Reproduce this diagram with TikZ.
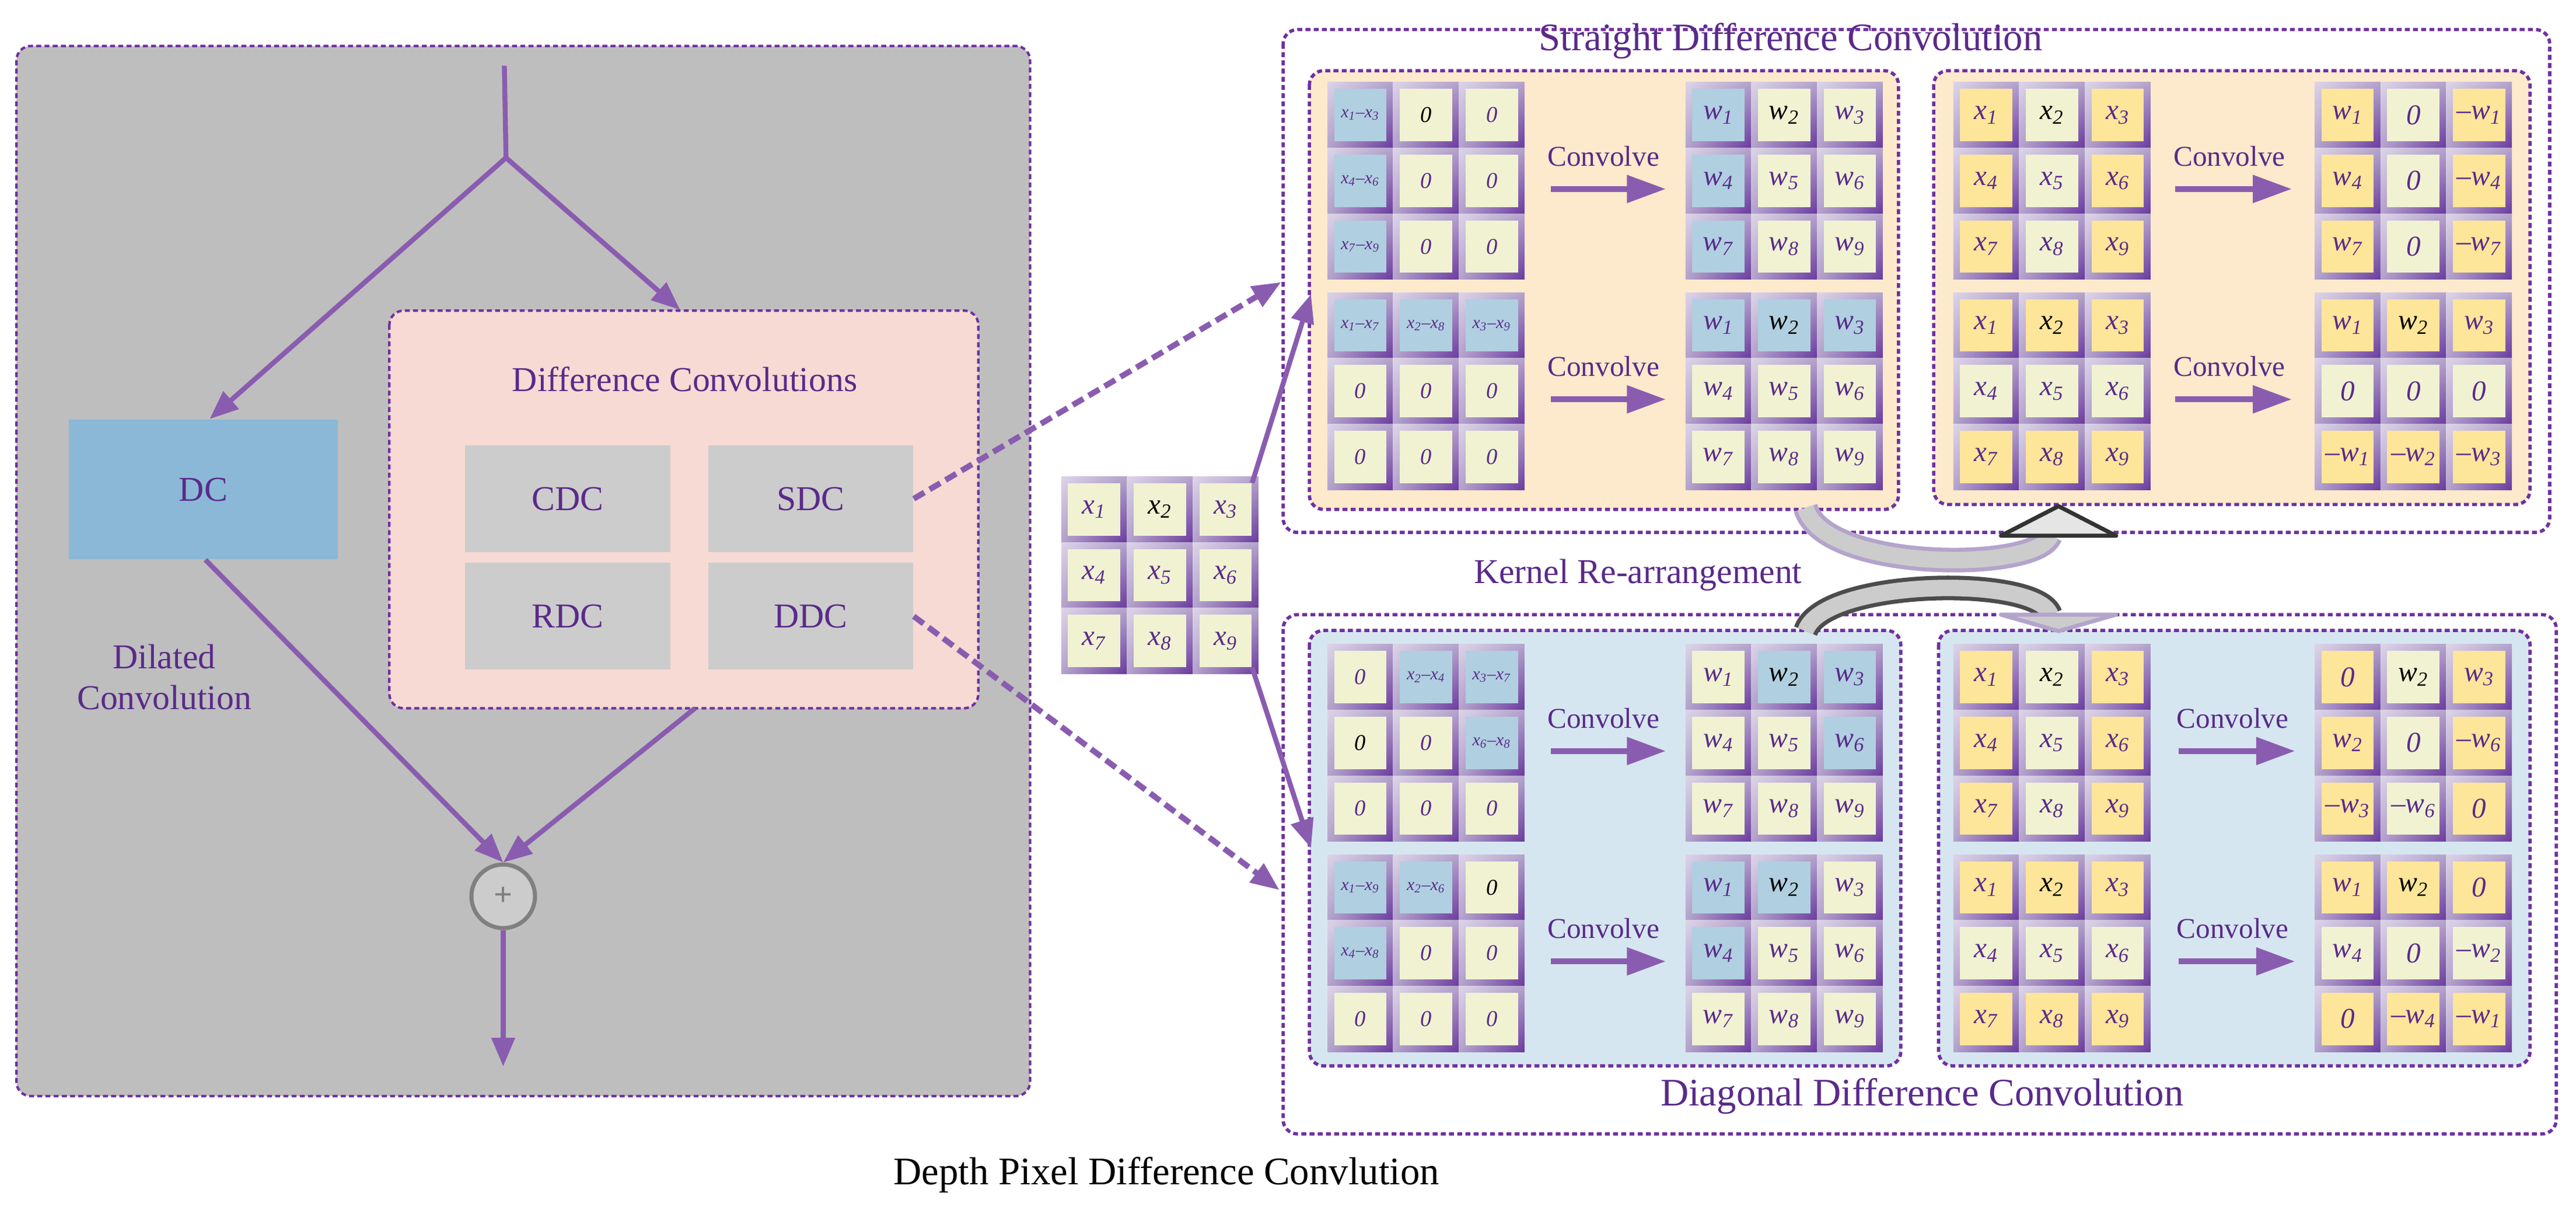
\documentclass[tikz,border=0pt]{standalone}
\usepackage{fontspec}
\setmainfont{Liberation Serif}
\usetikzlibrary{arrows.meta,shadings}
\definecolor{tpurple}{HTML}{5A2A8A}
\definecolor{bpurple}{HTML}{7030A0}
\definecolor{apurple}{HTML}{8A5CB0}
\definecolor{cy}{HTML}{FDE59A}
\definecolor{cc}{HTML}{F0F2D2}
\definecolor{cb}{HTML}{B0CFE0}
\definecolor{cellL}{HTML}{DCD4E8}
\definecolor{cellM}{HTML}{B4A4CC}
\definecolor{cellD}{HTML}{6A3A9E}
\definecolor{peach}{HTML}{FDE9CB}
\definecolor{lblue}{HTML}{D6E6F0}
\definecolor{pink}{HTML}{F6DAD3}
\definecolor{panelgray}{HTML}{BEBEBE}
\definecolor{boxgray}{HTML}{CCCCCC}
\definecolor{dcblue}{HTML}{8AB8D6}
\newcommand\vv[2]{\textit{#1}\textsubscript{\textit{#2}}}
\newcommand\X[1]{\vv{x}{#1}}
\newcommand\Xb[1]{\color{black}\vv{x}{#1}}
\newcommand\W[1]{\vv{w}{#1}}
\newcommand\Wb[1]{\color{black}\vv{w}{#1}}
\newcommand\Nw[1]{–\vv{w}{#1}}
\newcommand\Zk{\textit{0}}
\newcommand\Zs{\fontsize{11}{11}\selectfont\textit{0}}
\newcommand\Zsb{\fontsize{11}{11}\selectfont\color{black}\textit{0}}
\newcommand\Df[2]{\fontsize{8.5}{9}\selectfont\vv{x}{#1}–\vv{x}{#2}}
\newcommand\mymat[4]{%
  \foreach \t/\c [count=\i from 0] in {#4} {%
    \pgfmathtruncatemacro\mc{mod(\i,3)}%
    \pgfmathtruncatemacro\mr{int(\i/3)}%
    \shade[upper left=cellL, upper right=cellM, lower left=cellM, lower right=cellD]
      (#1+40*\mc, #2+40*\mr) rectangle ++(40,40);
    \node[cellbox, fill=\c] (#3-\i) at (#1+40*\mc+20, #2+40*\mr+20) {\t};
  }}
\begin{document}
\begin{tikzpicture}[x=0.02816cm, y=-0.02816cm,
  cellbox/.style={minimum width=25.5pt, minimum height=25.5pt, inner sep=0pt, text=tpurple, font=\fontsize{14}{14}\selectfont},
  dbox/.style={draw=bpurple, line width=1.6pt, dash pattern=on 2.4pt off 1.6pt, rounded corners=7pt},
  conn/.style={draw=apurple, line width=2.4pt, -{Triangle[length=14pt,width=11pt]}},
  dconn/.style={draw=apurple, line width=2.8pt, dash pattern=on 6pt off 3pt, -{Triangle[length=14pt,width=11pt]}},
  conv/.style={draw=apurple, line width=2.9pt, -{Triangle[length=19pt,width=13pt]}},
  lbl/.style={text=tpurple, font=\fontsize{17}{20}\selectfont, align=center},
  cvl/.style={text=tpurple, font=\fontsize{14}{14}\selectfont},
  gbox/.style={fill=boxgray, minimum width=100pt, minimum height=52pt, text=tpurple, font=\fontsize{17}{17}\selectfont}]
\useasboundingbox (0,0) rectangle (1568,734.4);

% ---------- left panel ----------
\draw[dbox, fill=panelgray, line width=1.2pt] (10,28) rectangle (627,667);
\draw[dbox, fill=pink, line width=1.2pt] (237,189) rectangle (595.5,431);
\node[lbl] (dct) at (416.8,230.6) {Difference Convolutions};
\node[gbox] (cdc) at (345.5,303.5) {CDC};
\node[gbox] (sdc) at (493.5,303.5) {SDC};
\node[gbox] (rdc) at (345.5,375) {RDC};
\node[gbox] (ddc) at (493.5,375) {DDC};
\node[fill=dcblue, minimum width=131pt, minimum height=68pt, text=tpurple, font=\fontsize{17}{17}\selectfont] (dc) at (123.75,297.8) {DC};
\node[lbl] (dil) at (100,412) {Dilated\\Convolution};
\node[circle, draw=gray, line width=2pt, fill=boxgray, minimum size=31pt, inner sep=0pt, text=gray, font=\bfseries\fontsize{16}{16}\selectfont] (plus) at (306.3,545.4) {+};
\coordinate (in) at (307,40);
\coordinate (br) at (308,96);
\coordinate (out) at (306.3,649);
\coordinate (pinktop) at (414,188.6);
\draw[draw=apurple, line width=2.4pt] (in) -- (br);
\draw[conn] (br) -- (127.6,255);
\draw[conn] (br) -- (pinktop);
\draw[conn] (125,340.6) -- (plus.north);
\draw[conn] (423,431) -- (plus.north);
\draw[conn] (plus.south) -- (out);

% ---------- right outer boxes ----------
\draw[dbox] (781,18) rectangle (1552,324);
\draw[dbox] (781,374) rectangle (1556,690);
\node[text=tpurple, font=\fontsize{19}{19}\selectfont] (sdct) at (1090,25) {Straight Difference Convolution};
\node[text=tpurple, font=\fontsize{19}{19}\selectfont] (ddct) at (1170,667) {Diagonal Difference Convolution};
\node[text=tpurple, font=\fontsize{17}{17}\selectfont] (kra) at (997,350) {Kernel Re-arrangement};
\draw[dbox, fill=peach] (797,43) rectangle (1155.6,310);
\draw[dbox, fill=peach] (1177,43) rectangle (1540,307);
\draw[dbox, fill=lblue] (797,383.6) rectangle (1157,648.6);
\draw[dbox, fill=lblue] (1180,383.6) rectangle (1540,648.6);

% input matrix
\mymat{646}{290}{in}{\X{1}/cc,\Xb{2}/cc,\X{3}/cc,\X{4}/cc,\X{5}/cc,\X{6}/cc,\X{7}/cc,\X{8}/cc,\X{9}/cc}

% top-left panel
\mymat{808}{50}{ma}{\Df{1}{3}/cb,\Zsb/cc,\Zs/cc,\Df{4}{6}/cb,\Zs/cc,\Zs/cc,\Df{7}{9}/cb,\Zs/cc,\Zs/cc}
\mymat{1026}{50}{ka}{\W{1}/cb,\Wb{2}/cc,\W{3}/cc,\W{4}/cb,\W{5}/cc,\W{6}/cc,\W{7}/cb,\W{8}/cc,\W{9}/cc}
\mymat{808}{178}{mb}{\Df{1}{7}/cb,\Df{2}{8}/cb,\Df{3}{9}/cb,\Zs/cc,\Zs/cc,\Zs/cc,\Zs/cc,\Zs/cc,\Zs/cc}
\mymat{1026}{178}{kb}{\W{1}/cb,\Wb{2}/cb,\W{3}/cb,\W{4}/cc,\W{5}/cc,\W{6}/cc,\W{7}/cc,\W{8}/cc,\W{9}/cc}
% top-right panel
\mymat{1189}{50}{mc}{\X{1}/cy,\Xb{2}/cc,\X{3}/cy,\X{4}/cy,\X{5}/cc,\X{6}/cy,\X{7}/cy,\X{8}/cc,\X{9}/cy}
\mymat{1409}{50}{kc}{\W{1}/cy,\Zk/cc,\Nw{1}/cy,\W{4}/cy,\Zk/cc,\Nw{4}/cy,\W{7}/cy,\Zk/cc,\Nw{7}/cy}
\mymat{1189}{178}{md}{\X{1}/cy,\Xb{2}/cy,\X{3}/cy,\X{4}/cc,\X{5}/cc,\X{6}/cc,\X{7}/cy,\X{8}/cy,\X{9}/cy}
\mymat{1409}{178}{kd}{\W{1}/cy,\Wb{2}/cy,\W{3}/cy,\Zk/cc,\Zk/cc,\Zk/cc,\Nw{1}/cy,\Nw{2}/cy,\Nw{3}/cy}
% bottom-left panel
\mymat{808}{392}{me}{\Zs/cc,\Df{2}{4}/cb,\Df{3}{7}/cb,\Zsb/cc,\Zs/cc,\Df{6}{8}/cb,\Zs/cc,\Zs/cc,\Zs/cc}
\mymat{1026}{392}{ke}{\W{1}/cc,\Wb{2}/cb,\W{3}/cb,\W{4}/cc,\W{5}/cc,\W{6}/cb,\W{7}/cc,\W{8}/cc,\W{9}/cc}
\mymat{808}{520}{mf}{\Df{1}{9}/cb,\Df{2}{6}/cb,\Zsb/cc,\Df{4}{8}/cb,\Zs/cc,\Zs/cc,\Zs/cc,\Zs/cc,\Zs/cc}
\mymat{1026}{520}{kf}{\W{1}/cb,\Wb{2}/cb,\W{3}/cc,\W{4}/cb,\W{5}/cc,\W{6}/cc,\W{7}/cc,\W{8}/cc,\W{9}/cc}
% bottom-right panel
\mymat{1189}{392}{mg}{\X{1}/cy,\Xb{2}/cc,\X{3}/cy,\X{4}/cy,\X{5}/cc,\X{6}/cy,\X{7}/cy,\X{8}/cc,\X{9}/cy}
\mymat{1409}{392}{kg}{\Zk/cy,\Wb{2}/cc,\W{3}/cy,\W{2}/cy,\Zk/cc,\Nw{6}/cy,\Nw{3}/cy,\Nw{6}/cc,\Zk/cy}
\mymat{1189}{520}{mh}{\X{1}/cy,\Xb{2}/cy,\X{3}/cy,\X{4}/cc,\X{5}/cc,\X{6}/cc,\X{7}/cy,\X{8}/cy,\X{9}/cy}
\mymat{1409}{520}{kh}{\W{1}/cy,\Wb{2}/cy,\Zk/cy,\W{4}/cc,\Zk/cc,\Nw{2}/cc,\Zk/cy,\Nw{4}/cy,\Nw{1}/cy}

% convolve labels and arrows
\foreach \n/\cx/\ax/\bx/\yy in {a/976/944/1014/50, b/976/944/1014/178, c/1357/1324/1395/50, d/1357/1324/1395/178,
                               e/976/944/1014/392, f/976/944/1014/520, g/1359/1326/1397/392, h/1359/1326/1397/520}{
  \node[cvl] (cv\n) at (\cx,\yy+45) {Convolve};
  \coordinate (cs\n) at (\ax,\yy+65);
  \coordinate (ce\n) at (\bx,\yy+65);
  \draw[conv] (cs\n) -- (ce\n);
}

% connectors from left panel
\coordinate (tipS) at (779.8,171.7);
\coordinate (tipD) at (778.8,541.6);
\draw[dconn] (sdc.east) -- (tipS);
\draw[dconn] (ddc.east) -- (tipD);
\coordinate (tipU) at (798,179);
\coordinate (tipL) at (798,516);
\draw[conn] (in-2.north east) -- (tipU);
\draw[conn] (in-8.south east) -- (tipL);

% kernel re-arrangement curved arrows
\coordinate (ua) at (1099,309);
\coordinate (ub) at (1248,326);
\draw[line width=12pt, draw=cellM] (ua) .. controls (1110,348) and (1240,348) .. (ub);
\draw[line width=8pt, draw=boxgray] (ua) .. controls (1110,348) and (1240,348) .. (ub);
\draw[fill=gray!20, draw=black!80, line width=2pt, line join=round] (1218,326) -- (1253,308) -- (1288,326) -- cycle;
\coordinate (la) at (1099,384);
\coordinate (lb) at (1248,374);
\draw[line width=12pt, draw=black!70] (la) .. controls (1110,352) and (1240,350) .. (lb);
\draw[line width=8pt, draw=boxgray] (la) .. controls (1110,352) and (1240,350) .. (lb);
\draw[fill=boxgray, draw=cellM, line width=2pt, line join=round] (1218,374) -- (1253,384) -- (1288,374) -- cycle;

\node[font=\fontsize{19}{19}\selectfont] (title) at (710,715) {Depth Pixel Difference Convlution};
\end{tikzpicture}
\end{document}
